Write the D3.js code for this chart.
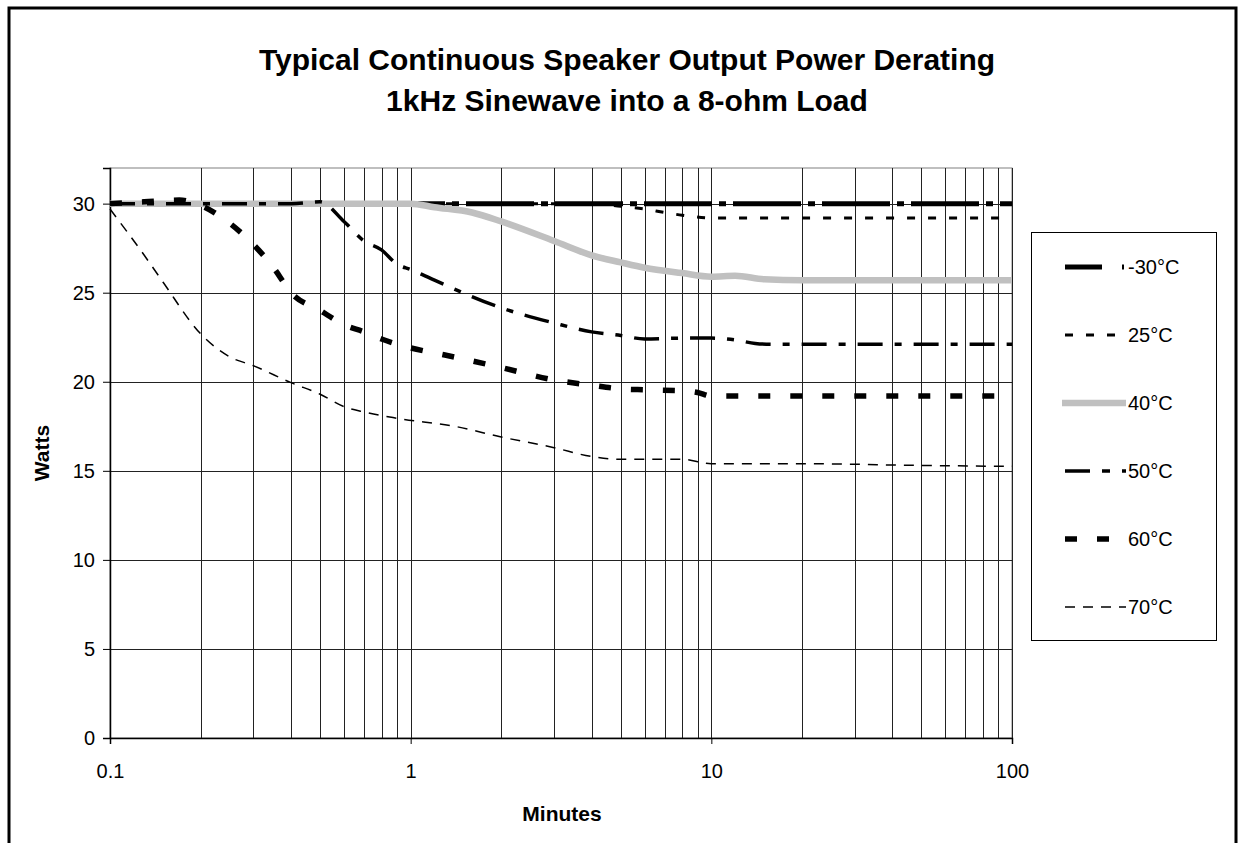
<!DOCTYPE html>
<html>
<head>
<meta charset="utf-8">
<script src="https://cdn.jsdelivr.net/npm/d3@7"></script>
<style>
  body { margin: 0; background: #fff; }
  text { font-family: "Liberation Sans", Arial, sans-serif; }
</style>
</head>
<body>
<div id="main"></div>
<script>
// data
var names = ["-30°C", "25°C", "40°C", "50°C", "60°C", "70°C"];

var xM30 = [0.1, 1, 10, 100];
var yM30 = [30, 30, 30, 30];

var x25 = [0.1, 1, 4, 5, 6, 7, 8, 10, 20, 100];
var y25 = [30, 30, 30, 29.85, 29.7, 29.5, 29.35, 29.2, 29.2, 29.2];

var x40 = [0.1, 0.5, 1, 1.2, 1.6, 2, 3, 4, 5, 6, 8, 10, 12, 15, 20, 100];
var y40 = [30, 30, 30, 29.8, 29.5, 29.0, 27.9, 27.1, 26.7, 26.4, 26.1, 25.9, 25.95, 25.75, 25.7, 25.7];

var x50 = [0.1, 0.4, 0.5, 0.6, 0.7, 0.8, 0.9, 1, 1.2, 2, 3, 4, 5, 6, 8, 10, 12, 14, 16, 20, 50, 100];
var y50 = [30, 30, 30.1, 29.0, 27.9, 27.4, 26.6, 26.3, 25.7, 24.15, 23.3, 22.8, 22.6, 22.4, 22.45, 22.45, 22.35, 22.15, 22.1, 22.1, 22.1, 22.1];

var x60 = [0.1, 0.13, 0.17, 0.2, 0.25, 0.3, 0.35, 0.4, 0.5, 0.6, 0.7, 0.8, 1, 1.3, 2, 3, 4, 5, 6, 8, 9, 10, 20, 100];
var y60 = [30, 30.1, 30.2, 29.9, 28.9, 27.7, 26.4, 25.0, 24.0, 23.2, 22.8, 22.4, 21.9, 21.5, 20.8, 20.1, 19.8, 19.6, 19.55, 19.5, 19.4, 19.2, 19.2, 19.2];

var x70 = [0.1, 0.13, 0.15, 0.2, 0.25, 0.3, 0.4, 0.5, 0.6, 0.7, 0.9, 1.4, 2, 3, 4, 5, 8, 10, 20, 50, 100];
var y70 = [29.7, 27.1, 25.6, 22.7, 21.4, 20.9, 19.95, 19.3, 18.6, 18.3, 17.95, 17.5, 16.9, 16.3, 15.8, 15.65, 15.65, 15.4, 15.4, 15.3, 15.25];

var xTicks = [0.1, 1, 10, 100];
var xTickLabels = ["0.1", "1", "10", "100"];
var yTicks = [0, 5, 10, 15, 20, 25, 30];

// styles per series
var styles = [
    {color: "#000", width: 5, dash: "68,7,7,7", legendDash: "37,20,2,10"},
    {color: "#000", width: 3, dash: "8,13", legendDash: "8,13"},
    {color: "#c0c0c0", width: 6.5, dash: null, legendDash: null},
    {color: "#000", width: 3.5, dash: "25,12,7,12", legendDash: "25,12,8,12"},
    {color: "#000", width: 5.5, dash: "12,20", legendDash: "12,20"},
    {color: "#000", width: 1.5, dash: "10,8", legendDash: "10,8"}
];
var xs = [xM30, x25, x40, x50, x60, x70];
var ys = [yM30, y25, y40, y50, y60, y70];

var width = 1239;
var height = 843;
var pLeft = 110, pRight = 1012, pTop = 168, pBottom = 738;

var svg = d3.select("#main").append("svg")
    .attr("width", width)
    .attr("height", height);

svg.append("rect")
    .attr("x", 9).attr("y", 8)
    .attr("width", 1227).attr("height", 900)
    .attr("fill", "#fff")
    .attr("stroke", "#000")
    .attr("stroke-width", 3);

var x = d3.scaleLog().domain([0.1, 100]).range([pLeft, pRight]);
var y = d3.scaleLinear().domain([0, 32]).range([pBottom, pTop]);

// title
svg.append("text").text("Typical Continuous Speaker Output Power Derating")
    .attr("x", 627).attr("y", 70)
    .attr("text-anchor", "middle")
    .attr("font-size", "30px").attr("font-weight", "bold");
svg.append("text").text("1kHz Sinewave into a 8-ohm Load")
    .attr("x", 627).attr("y", 111)
    .attr("text-anchor", "middle")
    .attr("font-size", "30px").attr("font-weight", "bold");

// plot frame
svg.append("rect")
    .attr("x", pLeft).attr("y", pTop)
    .attr("width", pRight - pLeft).attr("height", pBottom - pTop)
    .attr("fill", "none")
    .attr("stroke", "#808080")
    .attr("stroke-width", 1);

// vertical grid, every minor log tick
var xGrid = x.ticks().filter(function(d) { return d > 0.1; });
svg.append("g")
    .selectAll("line")
    .data(xGrid)
    .enter().append("line")
    .attr("x1", function(d) { return Math.round(x(d)) + 0.5; })
    .attr("x2", function(d) { return Math.round(x(d)) + 0.5; })
    .attr("y1", pTop).attr("y2", pBottom)
    .attr("stroke", "#222").attr("stroke-width", 1);

// horizontal grid
svg.append("g")
    .selectAll("line")
    .data(yTicks.filter(function(d) { return d > 0; }))
    .enter().append("line")
    .attr("x1", pLeft).attr("x2", pRight)
    .attr("y1", function(d) { return Math.round(y(d)) + 0.5; })
    .attr("y2", function(d) { return Math.round(y(d)) + 0.5; })
    .attr("stroke", "#222").attr("stroke-width", 1);

// axes
var xAxis = svg.append("g")
    .attr("transform", "translate(0," + pBottom + ")")
    .call(d3.axisBottom(x).tickValues(xTicks)
        .tickFormat(function(d, i) { return xTickLabels[i]; })
        .tickSize(6).tickPadding(20));
xAxis.select(".domain").attr("stroke", "#000").attr("stroke-width", 1.5);
xAxis.selectAll("text").attr("font-size", "20px").attr("fill", "#000")
    .attr("font-family", "Liberation Sans, Arial, sans-serif");

var yAxis = svg.append("g")
    .attr("transform", "translate(" + pLeft + ",0)")
    .call(d3.axisLeft(y).tickValues(yTicks).tickSize(7).tickPadding(8));
yAxis.select(".domain").attr("stroke", "#000").attr("stroke-width", 1.5);
yAxis.selectAll("text").attr("font-size", "20px").attr("fill", "#000")
    .attr("font-family", "Liberation Sans, Arial, sans-serif");

svg.append("text").text("Minutes")
    .attr("x", 562).attr("y", 821)
    .attr("text-anchor", "middle")
    .attr("font-size", "21px").attr("font-weight", "bold");
svg.append("text").text("Watts")
    .attr("transform", "translate(49,453) rotate(-90)")
    .attr("text-anchor", "middle")
    .attr("font-size", "21px").attr("font-weight", "bold");

// series lines, drawn in legend order
var line = d3.line()
    .x(function(d) { return x(d[0]); })
    .y(function(d) { return y(d[1]); })
    .curve(d3.curveMonotoneX);

for (var s = 0; s < names.length; s++) {
    var pts = xs[s].map(function(v, k) { return [v, ys[s][k]]; });
    svg.append("path")
        .attr("d", line(pts))
        .attr("fill", "none")
        .attr("stroke", styles[s].color)
        .attr("stroke-width", styles[s].width)
        .attr("stroke-dasharray", styles[s].dash);
}

// legend
svg.append("rect")
    .attr("x", 1031.5).attr("y", 232.5)
    .attr("width", 185).attr("height", 408)
    .attr("fill", "#fff")
    .attr("stroke", "#000").attr("stroke-width", 1);

for (var i = 0; i < names.length; i++) {
    var ly = 267 + i * 68;
    svg.append("line")
        .attr("x1", i == 2 ? 1062 : 1065).attr("x2", 1126)
        .attr("y1", ly).attr("y2", ly)
        .attr("stroke", styles[i].color)
        .attr("stroke-width", styles[i].width)
        .attr("stroke-dasharray", styles[i].legendDash);
    svg.append("text").text(names[i])
        .attr("x", 1128).attr("y", ly + 7)
        .attr("font-size", "20px");
}
</script>
</body>
</html>
